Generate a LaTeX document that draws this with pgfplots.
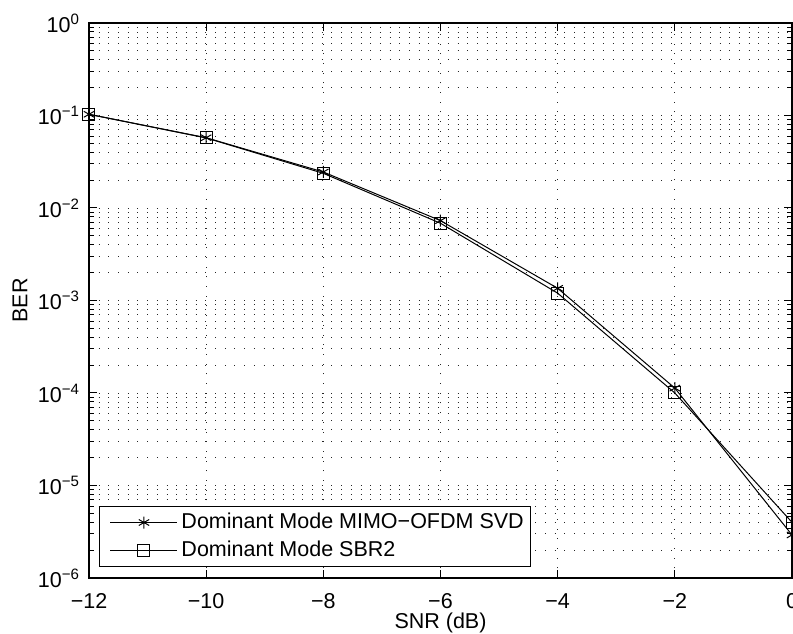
\documentclass[border=0pt]{standalone}
\usepackage{fontspec}
\setmainfont{Liberation Sans}
\usepackage{pgfplots}
\pgfplotsset{compat=1.18}
\begin{document}
\begin{tikzpicture}
\begin{semilogyaxis}[
  scale only axis,
  width=351.5pt, height=277.5pt,
  xmin=-12, xmax=0, ymin=1e-6, ymax=1,
  xtick={-12,-10,-8,-6,-4,-2,0},
  xticklabels={−12,−10,−8,−6,−4,−2,0},
  ytick={1e-6,1e-5,1e-4,1e-3,1e-2,1e-1,1},
  yticklabels={10\textsuperscript{−6},10\textsuperscript{−5},10\textsuperscript{−4},10\textsuperscript{−3},10\textsuperscript{−2},10\textsuperscript{−1},10\textsuperscript{0}},
  minor ytick={2e-6,3e-6,4e-6,5e-6,6e-6,7e-6,8e-6,9e-6,
               2e-5,3e-5,4e-5,5e-5,6e-5,7e-5,8e-5,9e-5,
               2e-4,3e-4,4e-4,5e-4,6e-4,7e-4,8e-4,9e-4,
               2e-3,3e-3,4e-3,5e-3,6e-3,7e-3,8e-3,9e-3,
               2e-2,3e-2,4e-2,5e-2,6e-2,7e-2,8e-2,9e-2,
               0.2,0.3,0.4,0.5,0.6,0.7,0.8,0.9},
  tick align=inside,
  major tick length=4pt, minor tick length=2.5pt,
  xmajorgrids, ymajorgrids, yminorgrids,
  major grid style={black!85, line width=0.45pt, dash pattern=on 0.45pt off 4.4pt},
  minor grid style={black!85, line width=0.45pt, dash pattern=on 0.45pt off 4.4pt},
  axis line style={line width=0.6pt},
  every tick/.style={black, line width=0.5pt},
  tick label style={font=\fontsize{10.75}{12}\selectfont},
  xticklabel style={yshift=-4.4pt},
  yticklabel style={xshift=-1pt},
  label style={font=\fontsize{10.75}{12}\selectfont},
  xlabel={SNR (dB)},
  ylabel={BER},
  xlabel style={at={(axis description cs:0.5,0)}, anchor=center, yshift=-22.5pt},
  ylabel style={at={(axis description cs:0,0.5)}, anchor=center, yshift=34.5pt},
  legend style={at={(axis description cs:0.0142,0.0198)}, anchor=south west,
    font=\fontsize{10.75}{12}\selectfont, draw=black, line width=0.5pt,
    inner xsep=1.75pt, inner ysep=1pt, row sep=0pt,
    nodes={inner xsep=1.75pt, inner ysep=2.25pt, text height=7.5pt, text depth=2pt},
    cells={anchor=west}},
  legend cell align=left,
  legend image code/.code={\path (0pt,0pt); \draw[#1, mark repeat=2, mark phase=2] plot coordinates {(3.5pt,0pt) (20.25pt,0pt) (37pt,0pt)};},
]
\addplot[black, line width=0.5pt, mark=asterisk, mark size=3pt, mark options={solid}] coordinates {
  (-12,0.103) (-10,0.0575) (-8,0.0245) (-6,0.0073) (-4,1.355e-3) (-2,1.13e-4) (0,2.92e-6)
};
\addlegendentry{Dominant Mode MIMO−OFDM SVD}
\addplot[black, line width=0.5pt, mark=square, mark size=3pt, mark options={solid}] coordinates {
  (-12,0.103) (-10,0.0572) (-8,0.0237) (-6,0.00684) (-4,1.2e-3) (-2,1.0e-4) (0,4.0e-6)
};
\addlegendentry{Dominant Mode SBR2}
\end{semilogyaxis}
\pgfresetboundingbox
\path[use as bounding box] ([xshift=-44.5pt,yshift=-28pt]current axis.south west) rectangle ([xshift=0.5pt,yshift=11.5pt]current axis.north east);
\end{tikzpicture}
\end{document}
